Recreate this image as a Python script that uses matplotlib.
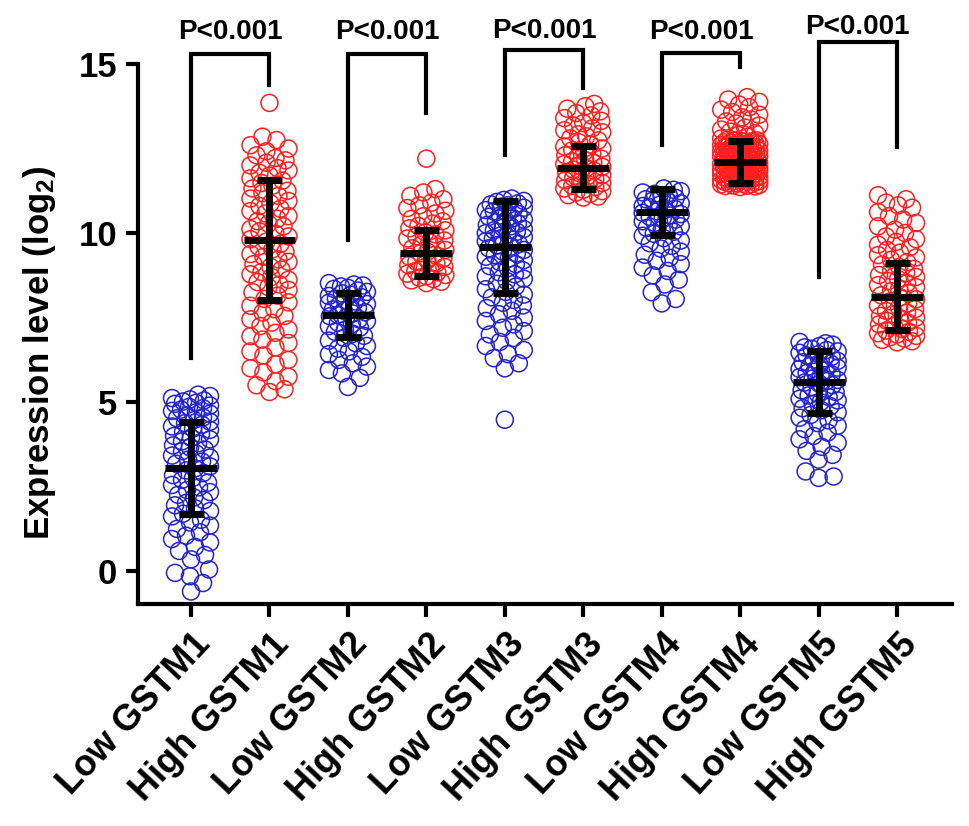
import numpy as np
import matplotlib
matplotlib.use('Agg')
import matplotlib.pyplot as plt
from matplotlib.transforms import ScaledTranslation

plt.rcParams['font.family'] = ['Liberation Sans', 'DejaVu Sans']
plt.rcParams['font.weight'] = 'bold'
plt.rcParams['mathtext.fontset'] = 'custom'
plt.rcParams['mathtext.rm'] = 'Liberation Sans:bold'
plt.rcParams['mathtext.default'] = 'rm'

# category names on the x axis
labels = ['Low GSTM1', 'High GSTM1', 'Low GSTM2', 'High GSTM2', 'Low GSTM3',
          'High GSTM3', 'Low GSTM4', 'High GSTM4', 'Low GSTM5', 'High GSTM5']

# expression values (log2)
low_gstm1 = [5.22, 5.18, 5.12, 5.08, 5.05, 5.02, 4.98, 4.95, 4.9, 4.86, 4.82, 4.78,
             4.74, 4.7, 4.66, 4.6, 4.55, 4.52, 4.47, 4.42, 4.38, 4.33, 4.28, 4.22,
             4.18, 4.12, 4.06, 4.0, 3.95, 3.9, 3.84, 3.78, 3.72, 3.66, 3.6, 3.55,
             3.48, 3.42, 3.36, 3.3, 3.24, 3.18, 3.1, 3.04, 2.98, 2.9, 2.84, 2.76,
             2.7, 2.62, 2.55, 2.48, 2.4, 2.34, 2.26, 2.18, 2.1, 2.02, 1.95, 1.86,
             1.78, 1.7, 1.62, 1.52, 1.44, 1.35, 1.25, 1.15, 1.05, 0.95, 0.85, 0.72,
             0.6, 0.48, 0.35, 0.05, -0.05, -0.15, -0.35, -0.6]
high_gstm1 = [13.85, 12.85, 12.75, 12.6, 12.5, 12.42, 12.3, 12.22, 12.15, 12.08, 12.0,
              11.92, 11.85, 11.78, 11.7, 11.62, 11.55, 11.48, 11.4, 11.32, 11.25,
              11.18, 11.1, 11.02, 10.95, 10.88, 10.8, 10.72, 10.65, 10.58, 10.5,
              10.42, 10.35, 10.28, 10.2, 10.12, 10.05, 9.98, 9.9, 9.82, 9.75, 9.68,
              9.6, 9.52, 9.45, 9.38, 9.3, 9.22, 9.15, 9.08, 9.0, 8.92, 8.85, 8.78,
              8.7, 8.62, 8.55, 8.48, 8.4, 8.32, 8.25, 8.15, 8.05, 7.95, 7.85, 7.75,
              7.65, 7.55, 7.45, 7.35, 7.25, 7.15, 7.05, 6.95, 6.85, 6.75, 6.62, 6.5,
              6.38, 6.25, 6.12, 6.0, 5.88, 5.75, 5.62, 5.5, 5.38, 5.3]
low_gstm2 = [8.52, 8.48, 8.45, 8.42, 8.38, 8.35, 8.3, 8.26, 8.22, 8.18, 8.14, 8.1,
             8.06, 8.02, 7.98, 7.94, 7.9, 7.86, 7.82, 7.78, 7.74, 7.7, 7.66, 7.62,
             7.58, 7.54, 7.5, 7.45, 7.4, 7.35, 7.3, 7.25, 7.2, 7.14, 7.08, 7.02,
             6.96, 6.9, 6.82, 6.74, 6.66, 6.58, 6.5, 6.42, 6.34, 6.25, 6.15, 6.05,
             5.95, 5.85, 5.72, 5.45]
high_gstm2 = [12.2, 11.3, 11.2, 11.1, 11.0, 10.9, 10.82, 10.74, 10.66, 10.58, 10.5,
              10.42, 10.35, 10.28, 10.21, 10.14, 10.08, 10.02, 9.96, 9.9, 9.84, 9.78,
              9.72, 9.66, 9.6, 9.55, 9.5, 9.45, 9.4, 9.35, 9.3, 9.25, 9.2, 9.15, 9.1,
              9.05, 9.0, 8.96, 8.92, 8.88, 8.84, 8.8, 8.76, 8.72, 8.68, 8.64, 8.6,
              8.56, 8.52]
low_gstm3 = [11.02, 10.98, 10.95, 10.92, 10.88, 10.85, 10.82, 10.78, 10.75, 10.72,
             10.68, 10.64, 10.6, 10.56, 10.52, 10.48, 10.44, 10.4, 10.36, 10.32,
             10.28, 10.24, 10.2, 10.16, 10.12, 10.08, 10.04, 10.0, 9.96, 9.92, 9.88,
             9.84, 9.8, 9.76, 9.72, 9.68, 9.64, 9.6, 9.55, 9.5, 9.45, 9.4, 9.35, 9.3,
             9.25, 9.2, 9.14, 9.08, 9.02, 8.96, 8.9, 8.84, 8.78, 8.72, 8.65, 8.58,
             8.5, 8.42, 8.34, 8.26, 8.18, 8.1, 8.02, 7.94, 7.86, 7.78, 7.7, 7.6, 7.5,
             7.4, 7.3, 7.2, 7.1, 7.0, 6.9, 6.78, 6.66, 6.54, 6.42, 6.3, 6.15, 6.0,
             4.48]
high_gstm3 = [13.82, 13.75, 13.68, 13.6, 13.55, 13.48, 13.4, 13.32, 13.25, 13.18,
              13.1, 13.04, 12.98, 12.92, 12.86, 12.8, 12.74, 12.68, 12.62, 12.56,
              12.5, 12.45, 12.4, 12.35, 12.3, 12.25, 12.2, 12.16, 12.12, 12.08, 12.04,
              12.0, 11.96, 11.92, 11.88, 11.84, 11.8, 11.76, 11.72, 11.68, 11.64,
              11.6, 11.56, 11.52, 11.48, 11.44, 11.4, 11.36, 11.32, 11.28, 11.24,
              11.2, 11.16, 11.12, 11.08, 11.05]
low_gstm4 = [11.32, 11.28, 11.24, 11.2, 11.16, 11.12, 11.08, 11.04, 11.0, 10.96,
             10.92, 10.88, 10.84, 10.8, 10.76, 10.72, 10.68, 10.64, 10.6, 10.56,
             10.52, 10.48, 10.44, 10.4, 10.35, 10.3, 10.25, 10.2, 10.15, 10.1, 10.04,
             9.98, 9.92, 9.85, 9.78, 9.7, 9.62, 9.54, 9.45, 9.36, 9.27, 9.18, 9.08,
             8.98, 8.88, 8.75, 8.62, 8.48, 8.25, 8.05, 7.92]
high_gstm4 = [14.02, 13.95, 13.88, 13.8, 13.72, 13.65, 13.58, 13.5, 13.42, 13.36,
              13.3, 13.24, 13.18, 13.12, 13.06, 13.0, 12.95, 12.9, 12.85, 12.8, 12.76,
              12.74, 12.73, 12.71, 12.7, 12.68, 12.67, 12.65, 12.64, 12.62, 12.61,
              12.59, 12.58, 12.56, 12.55, 12.53, 12.52, 12.5, 12.49, 12.47, 12.46,
              12.44, 12.43, 12.41, 12.4, 12.38, 12.37, 12.35, 12.34, 12.32, 12.31,
              12.29, 12.28, 12.26, 12.25, 12.23, 12.22, 12.2, 12.19, 12.17, 12.16,
              12.14, 12.13, 12.11, 12.1, 12.08, 12.07, 12.05, 12.04, 12.02, 12.01,
              11.99, 11.98, 11.96, 11.95, 11.93, 11.92, 11.9, 11.89, 11.87, 11.86,
              11.84, 11.83, 11.81, 11.8, 11.78, 11.77, 11.75, 11.74, 11.72, 11.71,
              11.69, 11.68, 11.66, 11.65, 11.63, 11.62, 11.6, 11.59, 11.57, 11.56,
              11.54, 11.53, 11.51, 11.5, 11.48, 11.47, 11.45, 11.44, 11.42, 11.41,
              11.39, 11.38, 11.36, 12.72, 12.66, 12.6, 12.54, 12.48, 12.42, 12.36,
              12.3, 12.24, 12.18, 12.12, 12.06, 12.0, 11.94, 11.88, 11.82, 11.76,
              11.7, 11.64, 11.58, 11.52, 11.46, 11.4]
low_gstm5 = [6.78, 6.74, 6.7, 6.66, 6.62, 6.58, 6.54, 6.5, 6.46, 6.42, 6.38, 6.34,
             6.3, 6.26, 6.22, 6.18, 6.14, 6.1, 6.06, 6.02, 5.98, 5.94, 5.9, 5.86,
             5.82, 5.78, 5.74, 5.7, 5.66, 5.62, 5.58, 5.54, 5.5, 5.45, 5.4, 5.35,
             5.3, 5.25, 5.2, 5.15, 5.1, 5.05, 5.0, 4.94, 4.88, 4.82, 4.76, 4.7, 4.62,
             4.54, 4.46, 4.38, 4.3, 4.2, 4.1, 4.0, 3.9, 3.8, 3.68, 3.56, 3.44, 3.3,
             2.95, 2.8, 2.76]
high_gstm5 = [11.12, 11.0, 10.9, 10.82, 10.75, 10.62, 10.5, 10.4, 10.3, 10.2, 10.1,
              10.0, 9.9, 9.82, 9.74, 9.66, 9.58, 9.5, 9.42, 9.35, 9.28, 9.21, 9.14,
              9.07, 9.0, 8.94, 8.88, 8.82, 8.76, 8.7, 8.64, 8.58, 8.52, 8.46, 8.4,
              8.34, 8.28, 8.22, 8.16, 8.1, 8.04, 7.98, 7.92, 7.86, 7.8, 7.75, 7.7,
              7.65, 7.6, 7.55, 7.5, 7.45, 7.4, 7.35, 7.3, 7.25, 7.2, 7.16, 7.12, 7.08,
              7.04, 7.0, 6.96, 6.92, 6.88, 6.84, 6.8, 6.77]

groups = [low_gstm1, high_gstm1, low_gstm2, high_gstm2, low_gstm3,
          high_gstm3, low_gstm4, high_gstm4, low_gstm5, high_gstm5]

# mean and SD as drawn in the picture
means = [3.05, 9.79, 7.57, 9.41, 9.6, 11.93, 10.62, 12.1, 5.59, 8.12]
sds = [1.35, 1.78, 0.65, 0.68, 1.36, 0.64, 0.68, 0.62, 0.92, 1.0]

# comparison brackets (one per low/high pair)
p_text = ['P<0.001'] * 5
bracket_top = [15.3, 15.3, 15.4, 15.34, 15.64]
bracket_left_end = [6.3, 9.8, 12.3, 12.6, 8.7]
bracket_right_end = [14.37, 13.54, 14.3, 14.9, 12.55]
text_base = [15.73, 15.73, 15.76, 15.75, 15.9]

blue = '#2424cc'
red = '#ff1f1f'


def swarm_offsets(ys_px, diam, max_off, step=1.0):
    # greedy beeswarm in pixel space, overlaps allowed once the width is used up
    order = np.argsort(ys_px)
    xs = np.zeros(len(ys_px))
    cands = [0.0]
    k = 1
    while k * step <= max_off:
        cands += [k * step, -k * step]
        k += 1
    cands = np.array(cands)
    px, py = [], []
    for i in order:
        y = ys_px[i]
        c = 0.0
        if px:
            ax_ = np.array(px)
            ay_ = np.array(py)
            near = np.abs(ay_ - y) < diam
            if near.any():
                dx = cands[:, None] - ax_[near][None, :]
                dy = y - ay_[near]
                d = np.sqrt(dx ** 2 + dy[None, :] ** 2).min(axis=1)
                ok = np.where(d >= diam * 0.85)[0]
                c = cands[ok[0]] if len(ok) else cands[np.argmax(d)]
        xs[i] = c
        px.append(c)
        py.append(y)
    return xs


fig = plt.figure(figsize=(9.69, 8.26), dpi=100)
ax = fig.add_axes([138 / 969, 222 / 826, 814 / 969, 540 / 826])
ax.set_xlim(-0.676, 9.70)
ax.set_ylim(-0.97, 15)

x_px = ax.transData.transform((1, 0))[0] - ax.transData.transform((0, 0))[0]
y_px = ax.transData.transform((0, 1))[1] - ax.transData.transform((0, 0))[1]
diam = 17.0

for i, vals in enumerate(groups):
    vals = np.array(vals)
    offs = swarm_offsets(vals * y_px, diam, 19.0) / x_px
    col = blue if i % 2 == 0 else red
    ax.scatter(i + offs, vals, s=(diam * 0.72) ** 2, facecolors='none',
               edgecolors=col, linewidths=1.1, zorder=2)
    ax.errorbar(i, means[i], yerr=sds[i], fmt='none', ecolor='black',
                elinewidth=5, capsize=9, capthick=5, zorder=5)
    ax.hlines(means[i], i - 0.33, i + 0.33, color='black', lw=5, zorder=5)

for j in range(5):
    a, b = 2 * j, 2 * j + 1
    ax.plot([a, a, b, b], [bracket_left_end[j], bracket_top[j], bracket_top[j], bracket_right_end[j]],
            color='black', lw=3, clip_on=False, solid_joinstyle='miter', zorder=4)
    ax.text((a + b) / 2, text_base[j], p_text[j], ha='center', va='baseline',
            fontsize=20, fontweight='bold', clip_on=False)

ax.spines['top'].set_visible(False)
ax.spines['right'].set_visible(False)
ax.spines['left'].set_linewidth(3)
ax.spines['bottom'].set_linewidth(3)

ax.set_yticks([0, 5, 10, 15])
ax.set_yticklabels(['0', '5', '10', '15'], fontsize=25, fontweight='bold')
ax.set_xticks(range(10))
ax.set_xticklabels(labels, fontsize=26, fontweight='bold', rotation=47,
                   ha='right', va='center', rotation_mode='anchor')
ax.tick_params(axis='both', width=3, length=9, pad=6, direction='out')
ax.tick_params(axis='x', pad=16)
shift = ScaledTranslation(14 / 100, 0, fig.dpi_scale_trans)
for lab in ax.get_xticklabels():
    lab.set_transform(lab.get_transform() + shift)

ax.set_ylabel('Expression level (log$_{2}$)', fontsize=25, fontweight='bold')
ax.yaxis.set_label_coords(-0.098, 0.465)

fig.savefig('out.png', dpi=100)
